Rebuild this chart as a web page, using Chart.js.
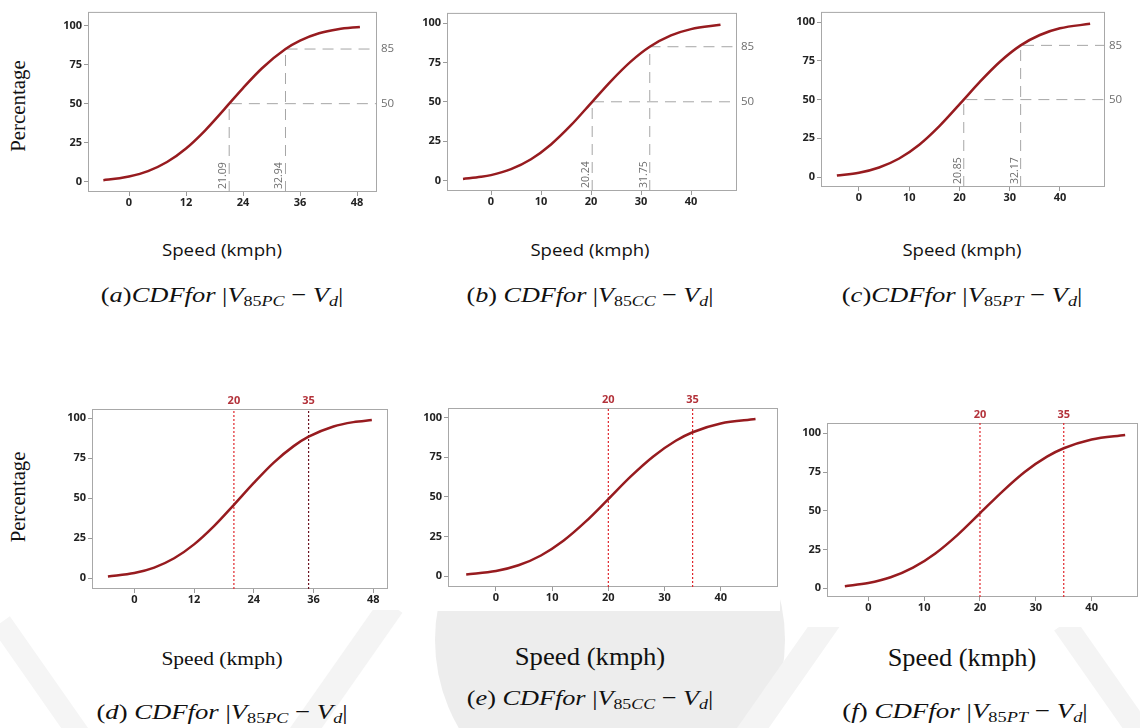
<!DOCTYPE html>
<html>
<head>
<meta charset="utf-8">
<script src="https://cdn.jsdelivr.net/npm/chart.js@4.4.1/dist/chart.umd.min.js"></script>
<style>
  body { margin: 0; width: 1140px; height: 728px; position: relative; overflow: hidden; background: #fff; }
  canvas { position: absolute; }
  .wm { position: absolute; background: #ededed; }
  .panel { position: absolute; background: #fff; }
  .t { position: absolute; white-space: nowrap; line-height: 1; transform: translate(-50%, -50%); }
  .sans { font-family: "Open Sans", sans-serif; font-size: 17px; color: #111; }
  .serif { font-family: "Liberation Serif", "Times New Roman", serif; color: #111; }
  .cap { font-family: "Liberation Serif", serif; font-size: 22px; color: #111; }
  .cap i { font-style: italic; }
  .cap .sb { font-size: 68%; position: relative; top: 0.3em; }
</style>
</head>
<body>
<!-- faint watermark behind the lower row -->
<div class="wm" style="left:435px;top:465px;width:350px;height:350px;border-radius:50%;"></div>
<div class="wm" style="left:330px;top:590px;width:26px;height:170px;transform:rotate(35deg);background:#f4f4f4"></div>
<div class="wm" style="left:770px;top:600px;width:26px;height:170px;transform:rotate(35deg);background:#f4f4f4"></div>
<div class="wm" style="left:30px;top:610px;width:22px;height:140px;transform:rotate(-35deg);background:#f5f5f5"></div>
<div class="wm" style="left:1095px;top:610px;width:24px;height:150px;transform:rotate(-35deg);background:#f4f4f4"></div>

<div class="panel" style="left:40px;top:385px;width:362px;height:225px"></div>
<div class="panel" style="left:416px;top:385px;width:364px;height:226px"></div>
<div class="panel" style="left:793px;top:395px;width:347px;height:232px"></div>

<div id="charts"></div>

<div class="t serif" data-w="92" data-rot="1" style="left:18px;top:106px;font-size:20px">Percentage</div>
<div class="t serif" data-w="91" data-rot="1" style="left:18px;top:497px;font-size:20px">Percentage</div>

<div class="t sans" data-w="120" style="left:222px;top:249px">Speed (kmph)</div>
<div class="t sans" data-w="119" style="left:590px;top:249px">Speed (kmph)</div>
<div class="t sans" data-w="119" style="left:962px;top:249px">Speed (kmph)</div>

<div class="t cap" data-w="243" style="left:222px;top:295px">(<i>a</i>)<i>CDFfor</i> |<i>V</i><span class="sb">85<i>PC</i></span> − <i>V<span class="sb">d</span></i>|</div>
<div class="t cap" data-w="247" style="left:590px;top:295px">(<i>b</i>) <i>CDFfor</i> |<i>V</i><span class="sb">85<i>CC</i></span> − <i>V<span class="sb">d</span></i>|</div>
<div class="t cap" data-w="241" style="left:962px;top:295px">(<i>c</i>)<i>CDFfor</i> |<i>V</i><span class="sb">85<i>PT</i></span> − <i>V<span class="sb">d</span></i>|</div>

<div class="t serif" data-w="121" style="left:222px;top:658px;font-size:19px">Speed (kmph)</div>
<div class="t serif" data-w="151" style="left:590px;top:657px;font-size:26px">Speed (kmph)</div>
<div class="t serif" data-w="149" style="left:962px;top:658px;font-size:26px">Speed (kmph)</div>

<div class="t cap" data-w="251" style="left:222px;top:712px">(<i>d</i>) <i>CDFfor</i> |<i>V</i><span class="sb">85<i>PC</i></span> − <i>V<span class="sb">d</span></i>|</div>
<div class="t cap" data-w="247" style="left:590px;top:698px">(<i>e</i>) <i>CDFfor</i> |<i>V</i><span class="sb">85<i>CC</i></span> − <i>V<span class="sb">d</span></i>|</div>
<div class="t cap" data-w="246" style="left:965px;top:711px">(<i>f</i>) <i>CDFfor</i> |<i>V</i><span class="sb">85<i>PT</i></span> − <i>V<span class="sb">d</span></i>|</div>

<script>
// cumulative percentage vs speed
const speedA = [-5.4, -2, 0, 4, 8, 12, 16, 20, 21.09, 24, 28, 32.94, 36, 40, 44, 48.6];
const pctA   = [1.0, 2.2, 3.3, 6.8, 12.6, 21.3, 32.8, 46.2, 50, 60.0, 72.7, 85, 90.4, 95.1, 97.7, 99.2];

const speedB = [-5.6, -2, 0, 4, 8, 12, 16, 20.24, 24, 28, 31.75, 36, 40, 45.9];
const pctB   = [1.0, 2.3, 3.4, 7.2, 13.5, 22.9, 35.1, 50, 63.2, 75.7, 85, 92.2, 96.2, 99.0];

const speedC = [-4.4, 0, 4, 8, 12, 16, 20.85, 24, 28, 32.17, 36, 40, 46];
const pctC   = [1.0, 2.8, 6.2, 12.0, 20.9, 32.9, 50, 61.3, 74.3, 85, 91.7, 96.0, 98.9];

const speedD = [-5.3, 0, 4, 8, 12, 16, 20, 24, 28, 32, 35, 40, 44, 47.7];
const pctD   = [1.1, 3.3, 6.7, 12.5, 21.2, 32.6, 45.9, 59.6, 72.3, 82.6, 88.5, 94.9, 97.6, 98.9];

const speedE = [-5.3, 0, 4, 8, 12, 16, 20, 24, 28, 32, 35, 40, 46.2];
const pctE   = [1.0, 3.2, 6.8, 13.0, 22.3, 34.5, 48.6, 62.9, 75.5, 85.4, 90.8, 96.3, 99.1];

const speedF = [-4.2, 0, 4, 8, 12, 16, 20, 24, 28, 32, 35, 40, 46];
const pctF   = [1.4, 3.4, 7.1, 13.3, 22.5, 34.5, 48.4, 62.4, 75.0, 84.9, 90.3, 96.0, 98.9];

// tick labels
const xTicks48 = [0, 12, 24, 36, 48];
const xTicks40 = [0, 10, 20, 30, 40];
const yTicks = [0, 25, 50, 75, 100];

// reference lines
const pctMarks = [50, 85];
const marksA = [21.09, 32.94];
const marksB = [20.24, 31.75];
const marksC = [20.85, 32.17];
const limits = [20, 35];

const CURVE = '#971b1f';
const TICK_FONT = { family: 'Open Sans', size: 11, weight: 'bold' };

const frame = {
  id: 'frame',
  beforeDatasetsDraw(chart) {
    const a = chart.chartArea, ctx = chart.ctx;
    ctx.save();
    ctx.strokeStyle = '#a8a8a8';
    ctx.lineWidth = 1;
    ctx.strokeRect(a.left + 0.5, a.top + 0.5, a.right - a.left - 1, a.bottom - a.top - 1);
    ctx.restore();
  }
};

const markLabels = {
  id: 'markLabels',
  afterDatasetsDraw(chart, args, opts) {
    if (!opts.values) return;
    const ctx = chart.ctx, xs = chart.scales.x, a = chart.chartArea;
    ctx.save();
    ctx.fillStyle = '#6e6e6e';
    ctx.font = '10.5px "Open Sans"';
    ctx.textAlign = 'left';
    ctx.textBaseline = 'middle';
    opts.values.forEach(v => {
      ctx.save();
      ctx.translate(xs.getPixelForValue(v) - 6, a.bottom - 3);
      ctx.rotate(-Math.PI / 2);
      ctx.fillText(v.toFixed(2), 0, 0);
      ctx.restore();
    });
    ctx.restore();
  }
};

function pts(xs, ys) {
  return xs.map((x, i) => ({ x: x, y: ys[i] }));
}

function plot(p) {
  const c = document.createElement('canvas');
  c.width = p.R - p.L + p.padL + p.padR;
  c.height = p.B - p.T + p.padT + p.padB;
  c.style.left = (p.L - p.padL) + 'px';
  c.style.top = (p.T - p.padT) + 'px';
  document.getElementById('charts').appendChild(c);

  const datasets = [{
    data: pts(p.speed, p.pct),
    borderColor: CURVE,
    borderWidth: 2.5,
    pointRadius: 0,
    cubicInterpolationMode: 'monotone'
  }];

  if (p.marks) {
    p.marks.forEach((m, i) => {
      datasets.push({
        data: [{ x: m, y: p.yMin }, { x: m, y: pctMarks[i] }, { x: p.xMax, y: pctMarks[i] }],
        borderColor: '#a6a6a6',
        borderWidth: 1,
        borderDash: [11, 7],
        pointRadius: 0,
        tension: 0
      });
    });
  }
  if (p.limitColors) {
    limits.forEach((v, i) => {
      datasets.push({
        data: [{ x: v, y: p.yMin }, { x: v, y: p.yMax }],
        borderColor: p.limitColors[i],
        borderWidth: 1.2,
        borderDash: [2, 2],
        pointRadius: 0,
        tension: 0
      });
    });
  }

  const scales = {
    x: {
      type: 'linear', min: p.xMin, max: p.xMax,
      afterBuildTicks: s => { s.ticks = p.xTicks.map(v => ({ value: v })); },
      afterFit: s => { s.height = p.padB; },
      grid: { drawOnChartArea: false, tickLength: 4, color: '#9a9a9a' },
      border: { display: false },
      ticks: { font: TICK_FONT, color: '#222', padding: 0, maxRotation: 0, autoSkip: false }
    },
    y: {
      min: p.yMin, max: p.yMax,
      afterBuildTicks: s => { s.ticks = yTicks.map(v => ({ value: v })); },
      afterFit: s => { s.width = p.padL; },
      grid: { drawOnChartArea: false, tickLength: 4, color: '#9a9a9a' },
      border: { display: false },
      ticks: { font: TICK_FONT, color: '#222', padding: 2 }
    }
  };
  if (p.marks) {
    scales.y2 = {
      position: 'right', min: p.yMin, max: p.yMax,
      afterBuildTicks: s => { s.ticks = pctMarks.map(v => ({ value: v })); },
      afterFit: s => { s.width = p.padR; },
      grid: { display: false, drawTicks: false },
      border: { display: false },
      ticks: { font: { family: 'Open Sans', size: 11.5 }, color: '#6e6e6e', padding: 4 }
    };
  }
  if (p.limitColors) {
    scales.x2 = {
      type: 'linear', position: 'top', min: p.xMin, max: p.xMax,
      afterBuildTicks: s => { s.ticks = limits.map(v => ({ value: v })); },
      afterFit: s => { s.height = p.padT; },
      grid: { display: false, drawTicks: false },
      border: { display: false },
      ticks: { font: TICK_FONT, color: '#b3323a', padding: 2, maxRotation: 0, autoSkip: false }
    };
  }

  new Chart(c, {
    type: 'line',
    data: { datasets: datasets },
    options: {
      responsive: false,
      animation: false,
      layout: { padding: { top: p.marks ? p.padT : 0, right: p.marks ? 0 : p.padR } },
      plugins: { legend: { display: false }, tooltip: { enabled: false }, markLabels: { values: p.marks } },
      scales: scales
    },
    plugins: [frame, markLabels]
  });
}

plot({ speed: speedA, pct: pctA, xTicks: xTicks48, marks: marksA,
  L: 88, R: 377, T: 5, B: 192, xMin: -8.63, xMax: 52.2, yMin: -6.6, yMax: 108.8,
  padL: 40, padR: 30, padT: 4, padB: 24 });
plot({ speed: speedB, pct: pctB, xTicks: xTicks40, marks: marksB,
  L: 447, R: 737, T: 6, B: 191, xMin: -8.8, xMax: 49.2, yMin: -6.7, yMax: 106.5,
  padL: 40, padR: 30, padT: 4, padB: 24 });
plot({ speed: speedC, pct: pctC, xTicks: xTicks40, marks: marksC,
  L: 821, R: 1105, T: 5, B: 187, xMin: -7.56, xMax: 48.96, yMin: -6.4, yMax: 106.6,
  padL: 40, padR: 30, padT: 4, padB: 24 });

plot({ speed: speedD, pct: pctD, xTicks: xTicks48, limitColors: ['#e0262c', '#6a1220'],
  L: 92, R: 388, T: 409, B: 589, xMin: -8.5, xMax: 50.95, yMin: -6.7, yMax: 105.8,
  padL: 40, padR: 4, padT: 20, padB: 24 });
plot({ speed: speedE, pct: pctE, xTicks: xTicks40, limitColors: ['#e0262c', '#e0262c'],
  L: 448, R: 778, T: 408, B: 587, xMin: -8.54, xMax: 50.2, yMin: -6.9, yMax: 106.1,
  padL: 40, padR: 2, padT: 20, padB: 24 });
plot({ speed: speedF, pct: pctF, xTicks: xTicks40, limitColors: ['#e0262c', '#e0262c'],
  L: 827, R: 1138, T: 423, B: 597, xMin: -7.4, xMax: 48.3, yMin: -5.6, yMax: 106.6,
  padL: 40, padR: 2, padT: 20, padB: 24 });

// stretch text blocks to the widths they have in the figure
document.querySelectorAll('.t[data-w]').forEach(el => {
  const k = +el.dataset.w / el.offsetWidth;
  el.style.transform = 'translate(-50%, -50%)' + (el.dataset.rot ? ' rotate(-90deg)' : '') + ' scaleX(' + k.toFixed(3) + ')';
});
</script>
</body>
</html>
